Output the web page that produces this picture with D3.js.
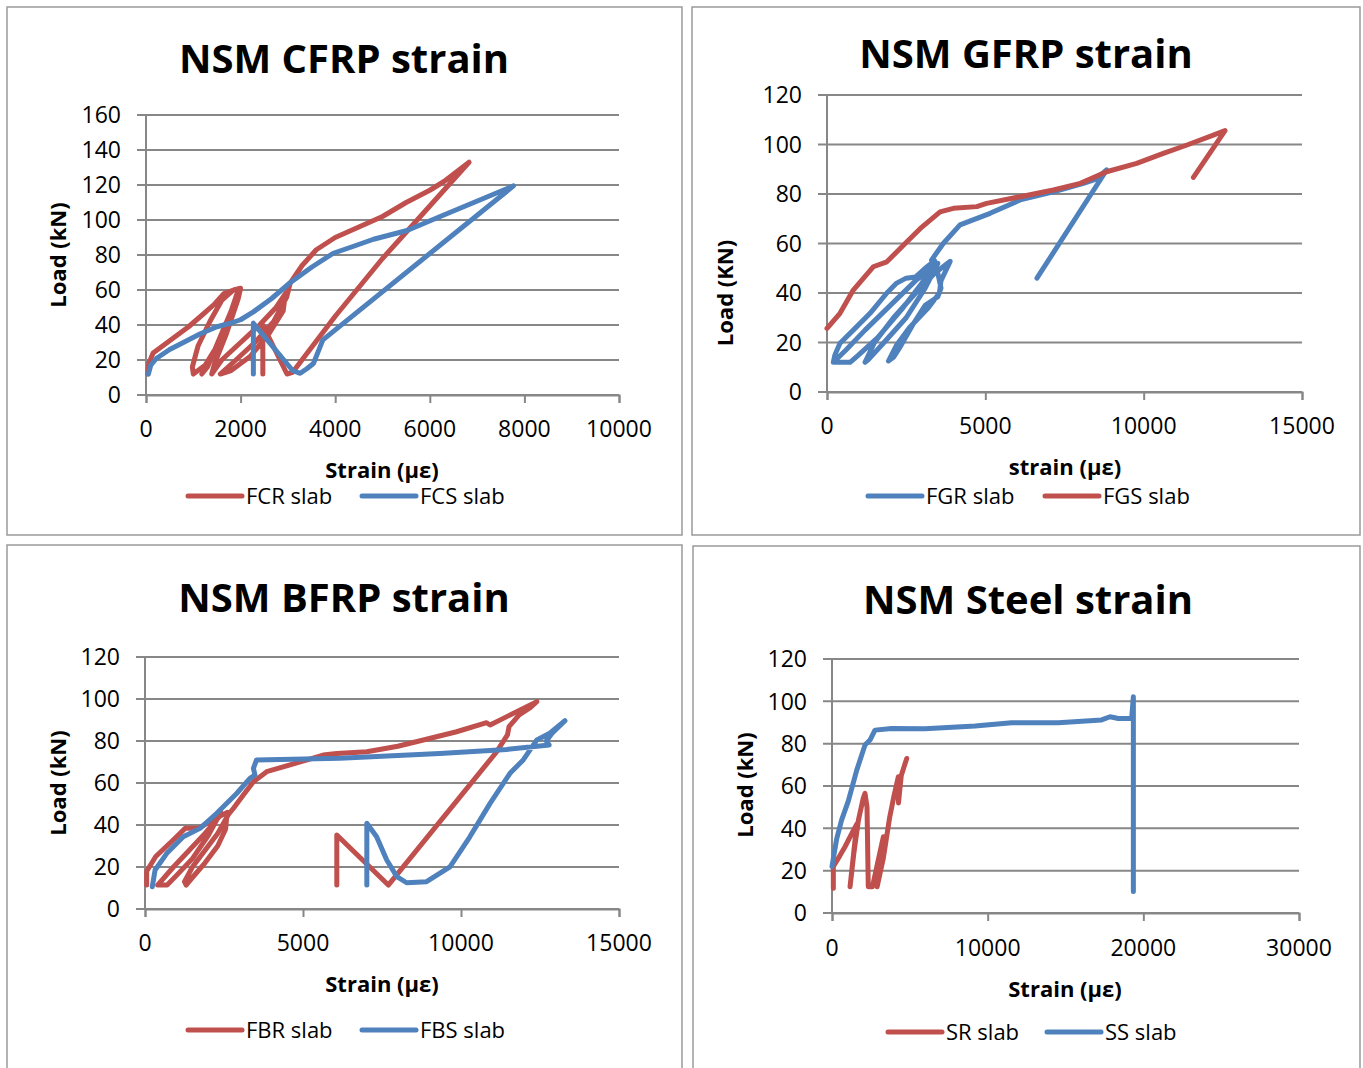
<!DOCTYPE html>
<html><head><meta charset="utf-8">
<script src="https://cdn.jsdelivr.net/npm/d3@7"></script>
<style>
html,body{margin:0;padding:0;background:#fff;}
svg{display:block;font-family:"Open Sans",sans-serif;}
</style></head>
<body>
<svg id="c" width="1363" height="1068"></svg>
<script>
// ---------- DATA (strain µε, load kN) ----------
const fcrSlab = [[40,12],[60,18],[150,24],[350,28],[600,33],[900,39],[1200,46],[1450,52],[1650,58],[1850,60],[2000,61],
 [1950,55],[1750,42],[1500,28],[1250,17],[1000,12],[980,16],[1100,28],[1350,42],[1600,54],[1850,60],[1950,60],
 [1800,48],[1550,32],[1300,16],[1180,12],[1250,15],[1500,28],[1750,43],[1950,55],
 [1700,35],[1450,18],[1390,12],[1600,20],[2000,30],[2400,40],[2750,50],[2950,58],
 [2900,48],[2600,35],[2200,22],[1800,14],[1570,12],[1900,20],[2300,30],[2700,42],[2975,56],[3050,64],[3300,74],
 [3600,83],[4000,90],[4500,96],[5000,102],[5500,110],[6000,117],[6300,122],[6830,133],
 [5900,105],[5000,78],[4000,45],[3100,13],[2980,12],[2470,40],[2470,12]];
const fcsSlab = [[50,12],[100,17],[225,21],[500,26],[790,30],[1150,35],[1500,39],[1780,41],[2000,43],[2270,47.5],
 [2650,55],[3040,64],[3500,73],[3960,81],[4390,85],[4810,89],[5520,94],[6220,102],[6930,110],[7770,119.5],
 [3740,31.5],[3680,27.5],[3540,18],[3400,15],[3260,12.4],[3100,14],[2270,41],[2270,12]];

const fgrSlab = [[200,12],[250,15],[410,19.7],[830,25],[1360,31.8],[1890,40],[2200,44],[2500,46],[2800,46.5],[3100,50],[3400,53],
 [3000,44],[2400,34],[1600,22],[1000,15],[730,12],[200,12],
 [600,17],[1200,25],[2000,35],[2800,45],[3500,52],
 [3100,42],[2500,30],[1800,20],[1300,13],[1200,12],
 [1500,20],[2100,30],[2800,40],[3400,48],[3890,52.8],
 [3600,45],[3550,40],[3200,34],[2600,26],[2200,19],[2000,14],[1940,12.5],[2100,14],[2300,18],[2700,27],[3100,35],
 [3500,38.5],[3600,42],[3500,48],[3300,53.3],[3670,60],[4200,67.5],[5150,72.2],[6100,77.6],[7150,80.9],[8100,84.3],
 [8500,86],[8830,89.7],[6630,46]];
const fgsSlab = [[0,25.7],[410,31.8],[830,41.2],[1460,50.6],[1890,52.6],[2420,59.4],[2940,66],[3570,72.8],[3990,74.2],
 [4730,74.9],[5040,76.2],[6100,78.9],[7150,81.6],[8000,84.3],[8830,89],[9780,92.4],[10620,96.4],[11370,99.8],
 [12200,103.8],[12570,105.6],[11570,86.7]];

const fbrSlab = [[53,11.4],[53,18],[340,25],[900,33],[1270,38.4],[1690,38.4],[2100,42],[2400,46],
 [2000,35],[1500,24],[1000,16],[700,11.4],[400,11.4],
 [900,20],[1400,28],[1900,36],[2350,44],[2600,46],
 [2550,38],[2300,30],[1900,22],[1500,15],[1300,11.4],[1250,13],[1500,20],[1900,28],[2300,36],[2640,45],[2800,48],
 [3100,54],[3430,60.6],[3850,65.4],[4590,68.6],[5640,73.3],[6070,74],[7020,74.9],[8000,77.5],[8810,80.5],[9860,84.4],
 [10810,88.7],[10920,87.6],[11450,91.6],[12080,96.3],[12400,98.7],[12200,96],[11840,92.4],[11520,86.8],[11470,82.9],
 [11130,74.9],[7700,11.4],[6070,35.2],[6070,11.4]];
const fbsSlab = [[230,10.6],[320,18.6],[690,26.5],[1210,34.4],[1740,38.4],[2270,45.6],[2900,55],[3320,62.2],[3480,63.8],
 [3430,67],[3530,71],[6170,71.8],[9330,74.1],[11450,76],[12790,78.1],[12700,80],[12900,84],[13290,89.7],[12810,83.7],
 [12400,80.5],[11970,71],[11550,64.6],[10920,50.3],[10280,34.4],[9650,20.1],[8910,13],[8280,12.5],[7970,15.4],
 [7650,23.3],[7330,34.4],[7020,40.8],[7020,11.4]];

const srSlab = [[86,11.7],[86,22],[500,27],[835,31.3],[1300,38],[1590,42],[1160,12.4],[1400,28],[1700,44],[2000,54],
 [2120,56.5],[2250,50],[2330,12.4],[2600,12.4],[3000,26],[3300,36],[3100,22],[2900,12.4],[3300,26],[3700,45],
 [4000,56],[4260,64.4],[4270,52],[4450,65],[4800,73]];
const ssSlab = [[0,22],[300,35],[620,44],[1050,53],[1590,67.5],[2120,79.4],[2440,81.7],[2760,86.4],[3830,87.2],[5970,87],
 [9190,88.3],[11540,89.9],[14540,89.9],[17320,91.2],[17860,92.7],[18390,91.9],[19250,91.9],[19360,102.2],[19360,10.1]];

const cfrpYTicks = [0,20,40,60,80,100,120,140,160];
const cfrpXTicks = [0,2000,4000,6000,8000,10000];
const gfrpYTicks = [0,20,40,60,80,100,120];
const gfrpXTicks = [0,5000,10000,15000];
const bfrpYTicks = [0,20,40,60,80,100,120];
const bfrpXTicks = [0,5000,10000,15000];
const steelYTicks = [0,20,40,60,80,100,120];
const steelXTicks = [0,10000,20000,30000];

const titles = ["NSM CFRP strain","NSM GFRP strain","NSM BFRP strain","NSM Steel strain"];
const xTitles = ["Strain (με)","strain (με)","Strain (με)","Strain (με)"];
const yTitles = ["Load (kN)","Load (KN)","Load (kN)","Load (kN)"];

// ---------- LAYOUT ----------
const RED = "#C0504D", BLUE = "#4F81BD";
const panels = [
 {frame:[7,7,682,535], plot:[146,619,115,395], xd:[0,10000], yd:[0,160], xt:cfrpXTicks, yt:cfrpYTicks,
  title:titles[0], tx:344, ty:73, xl:xTitles[0], xlx:382, xly:478, yl:yTitles[0], ylx:66, yly:255, xtly:437,
  series:[{n:"FCR slab",d:fcrSlab,c:RED,lx:188},{n:"FCS slab",d:fcsSlab,c:BLUE,lx:362}], legY:496},
 {frame:[692,7,1360,535], plot:[827,1302,95,392], xd:[0,15000], yd:[0,120], xt:gfrpXTicks, yt:gfrpYTicks,
  title:titles[1], tx:1026, ty:68, xl:xTitles[1], xlx:1065, xly:475, yl:yTitles[1], ylx:733, yly:293, xtly:434,
  series:[{n:"FGR slab",d:fgrSlab,c:BLUE,lx:868},{n:"FGS slab",d:fgsSlab,c:RED,lx:1045}], legY:496},
 {frame:[7,545,682,1075], plot:[145,619,657,909], xd:[0,15000], yd:[0,120], xt:bfrpXTicks, yt:bfrpYTicks,
  title:titles[2], tx:344, ty:612, xl:xTitles[2], xlx:382, xly:992, yl:yTitles[2], ylx:66, yly:783, xtly:951,
  series:[{n:"FBR slab",d:fbrSlab,c:RED,lx:188},{n:"FBS slab",d:fbsSlab,c:BLUE,lx:362}], legY:1030},
 {frame:[693,546,1360,1075], plot:[832,1299,659,913], xd:[0,30000], yd:[0,120], xt:steelXTicks, yt:steelYTicks,
  title:titles[3], tx:1028, ty:614, xl:xTitles[3], xlx:1065, xly:997, yl:yTitles[3], ylx:753, yly:785, xtly:956,
  series:[{n:"SR slab",d:srSlab,c:RED,lx:888},{n:"SS slab",d:ssSlab,c:BLUE,lx:1047}], legY:1032}
];

const svg = d3.select("#c");
const GRID = "#878787";

panels.forEach(p => {
  const g = svg.append("g");
  const [fx0,fy0,fx1,fy1] = p.frame;
  g.append("rect").attr("x",fx0).attr("y",fy0).attr("width",fx1-fx0).attr("height",fy1-fy0)
    .attr("fill","#fff").attr("stroke","#9a9a9a").attr("stroke-width",1.5);
  const [l,r,t,b] = p.plot;
  const x = d3.scaleLinear().domain(p.xd).range([l,r]);
  const y = d3.scaleLinear().domain(p.yd).range([b,t]);

  // gridlines
  g.append("g").selectAll("line").data(p.yt).join("line")
    .attr("x1",l-9).attr("x2",r).attr("y1",d=>y(d)).attr("y2",d=>y(d))
    .attr("stroke",GRID).attr("stroke-width",2);
  // y axis line
  g.append("line").attr("x1",l).attr("x2",l).attr("y1",t).attr("y2",b)
    .attr("stroke",GRID).attr("stroke-width",2);
  // x ticks
  const xa = d3.axisBottom(x).tickValues(p.xt).tickSize(8).tickFormat(d3.format("d"));
  const xg = g.append("g").attr("transform",`translate(0,${b})`).call(xa);
  xg.select(".domain").attr("stroke",GRID).attr("stroke-width",2);
  xg.selectAll(".tick line").attr("stroke",GRID).attr("stroke-width",2);
  xg.selectAll(".tick text").remove();
  g.append("g").selectAll("text").data(p.xt).join("text")
    .attr("x",d=>x(d)).attr("y",p.xtly).attr("text-anchor","middle")
    .attr("font-size",23).attr("fill","#000").text(d=>d3.format("d")(d));
  // y tick labels
  g.append("g").selectAll("text").data(p.yt).join("text")
    .attr("x",l-25).attr("y",d=>y(d)).attr("dy","0.36em").attr("text-anchor","end")
    .attr("font-size",23).attr("fill","#000").text(d=>d);

  // titles
  g.append("text").attr("x",p.tx).attr("y",p.ty).attr("text-anchor","middle")
    .attr("font-size",40).attr("font-weight","bold").text(p.title);
  g.append("text").attr("x",p.xlx).attr("y",p.xly).attr("text-anchor","middle")
    .attr("font-size",22).attr("font-weight","bold").text(p.xl);
  g.append("text").attr("transform",`translate(${p.ylx},${p.yly}) rotate(-90)`).attr("text-anchor","middle")
    .attr("font-size",22).attr("font-weight","bold").text(p.yl);

  // series
  const line = d3.line().x(d=>x(d[0])).y(d=>y(d[1]));
  p.series.forEach(s => {
    g.append("path").datum(s.d).attr("d",line).attr("fill","none").attr("stroke",s.c)
      .attr("stroke-width",5).attr("stroke-linejoin","round").attr("stroke-linecap","round");
    // legend
    g.append("line").attr("x1",s.lx).attr("x2",s.lx+54).attr("y1",p.legY).attr("y2",p.legY)
      .attr("stroke",s.c).attr("stroke-width",5).attr("stroke-linecap","round");
    g.append("text").attr("x",s.lx+58).attr("y",p.legY+8).attr("font-size",22).attr("fill","#000").text(s.n);
  });
});
</script>
</body></html>
